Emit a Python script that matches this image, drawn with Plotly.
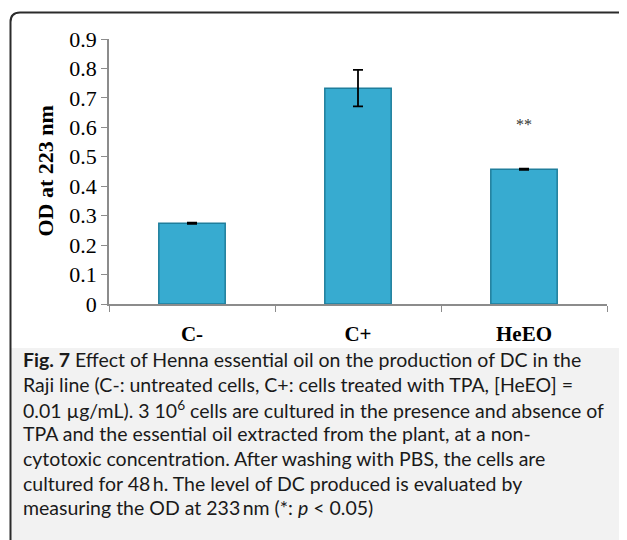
import plotly.graph_objects as go

# data
categories = ["C-", "C+", "HeEO"]
od_values = [0.274, 0.733, 0.458]
od_errors = [0.002, 0.062, 0.002]
significance = ["", "", "**"]
sig_height = 0.61

caption_lines = [
    "<b>Fig. 7</b> Effect of Henna essential oil on the production of DC in the",
    "Raji line (C-: untreated cells, C+: cells treated with TPA, [HeEO] =",
    "0.01 µg/mL). 3 10<sup>6</sup> cells are cultured in the presence and absence of",
    "TPA and the essential oil extracted from the plant, at a non-",
    "cytotoxic concentration. After washing with PBS, the cells are",
    "cultured for 48\u2009h. The level of DC produced is evaluated by",
    "measuring the OD at 233\u2009nm (*: <i>p</i> < 0.05)",
]

# the page body adds 8px around the figure, so work in screen pixels
OFF = 8
W, H = 627, 540
L, T = 109 - OFF, 39 - OFF
R = W - (607 - OFF)
B = H - (304 - OFF)
PW = W - L - R
PH = H - T - B


def px(x):
    return (x - OFF - L) / PW


def py(y):
    return (H - B - (y - OFF)) / PH


fig = go.Figure()
fig.add_trace(
    go.Bar(
        x=categories,
        y=od_values,
        marker={"color": "#37ABD0", "line": {"color": "#1F7E9C", "width": 1.5}},
        error_y={
            "type": "data",
            "array": od_errors,
            "color": "black",
            "thickness": 1.8,
            "width": 5,
        },
        showlegend=False,
    )
)

# caption box background
fig.add_shape(
    type="rect", xref="paper", yref="paper",
    x0=px(11), x1=px(650), y0=py(348), y1=py(560),
    fillcolor="#f2f2f2", line_width=0, layer="below",
)

# rounded frame
frame = (
    f"M {px(10.5)},{py(560)} L {px(10.5)},{py(22)} "
    f"Q {px(10.5)},{py(12.5)} {px(20)},{py(12.5)} "
    f"L {px(622)},{py(12.5)} Q {px(631)},{py(12.5)} {px(631)},{py(21.5)} "
    f"L {px(631)},{py(560)}"
)
fig.add_shape(
    type="path", xref="paper", yref="paper", path=frame,
    line={"color": "#2b2b2b", "width": 2},
)

for cat, val, mark in zip(categories, od_values, significance):
    if mark:
        fig.add_annotation(
            x=cat, y=sig_height, text=mark, showarrow=False,
            font={"family": "Liberation Serif", "size": 16, "color": "#333"},
        )

fig.add_annotation(
    xref="paper", yref="paper", x=px(45), y=py(171.5),
    xanchor="center", yanchor="middle",
    text="<b>OD at 223 nm</b>", textangle=-90, showarrow=False,
    font={"family": "Liberation Serif", "size": 22, "color": "black"},
)

line_y = [359, 384.5, 409.5, 434, 458.5, 483, 507.5]
for text, yy in zip(caption_lines, line_y):
    fig.add_annotation(
        xref="paper", yref="paper", x=px(21), y=py(yy),
        xanchor="left", yanchor="middle", align="left",
        text=text, showarrow=False,
        font={"family": "Lato", "size": 19.5, "color": "#1a1a1a"},
    )

fig.update_layout(
    width=W,
    height=H,
    margin={"l": L, "r": R, "t": T, "b": B},
    paper_bgcolor="white",
    plot_bgcolor="white",
    bargap=0.6,
    font={"family": "Liberation Serif", "color": "black"},
)
fig.update_xaxes(
    showline=True, linecolor="#8c8c8c", linewidth=1.5,
    ticks="outside", tickson="boundaries", ticklen=6, tickcolor="#8c8c8c",
    tickfont={"family": "Liberation Serif", "size": 21, "weight": "bold"},
    ticklabelstandoff=10,
    showgrid=False,
)
fig.update_yaxes(
    range=[0, 0.9], dtick=0.1,
    showline=True, linecolor="#8c8c8c", linewidth=1.5,
    ticks="outside", ticklen=6, tickcolor="#8c8c8c",
    tickfont={"family": "Liberation Serif", "size": 22},
    showgrid=False, zeroline=False,
)

fig.write_html("out.html")
